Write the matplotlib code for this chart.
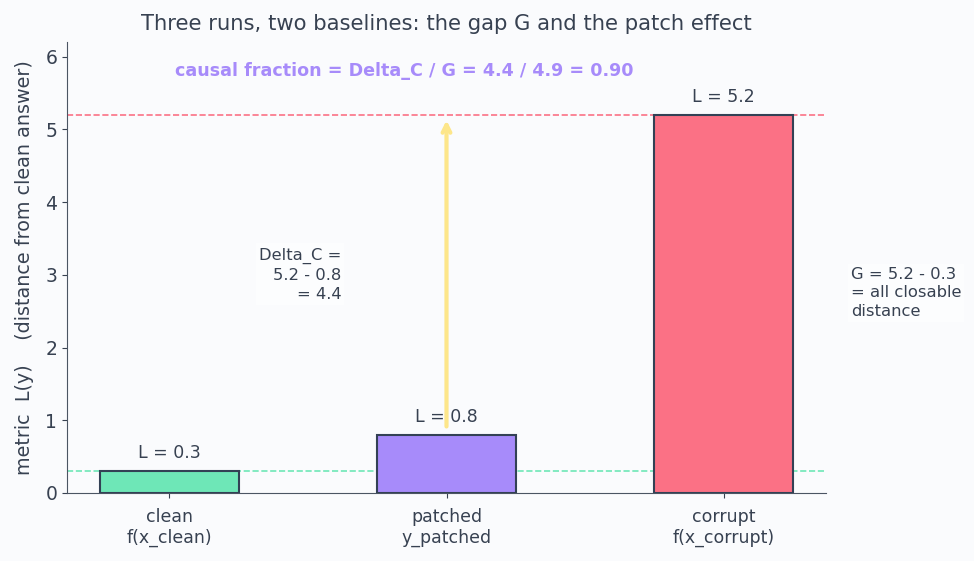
import matplotlib
matplotlib.use("Agg")
import matplotlib.pyplot as plt

categories = ["clean\nf(x_clean)", "patched\ny_patched", "corrupt\nf(x_corrupt)"]
values = [0.3, 0.8, 5.2]
bar_colors = ["#6ee7b7", "#a78bfa", "#fb7185"]
clean_val, patched_val, corrupt_val = values

bg = "#fafbfd"
txt = "#374151"

fig = plt.figure(figsize=(9.74, 5.61), dpi=100, facecolor=bg)
ax = fig.add_axes([67/974, 1 - 493/561, (826-67)/974, (493-42)/561])
ax.set_facecolor(bg)

x = list(range(len(categories)))
ax.bar(x, values, width=0.5, color=bar_colors, edgecolor="#334155", linewidth=1.5, zorder=3)
for xi, v in zip(x, values):
    ax.text(xi, v + 0.12, f"L = {v}", ha="center", va="bottom", fontsize=12.5, color=txt, zorder=5)

ax.axhline(clean_val, color="#6ee7b7", linestyle="--", linewidth=1.2, zorder=2)
ax.axhline(corrupt_val, color="#fb7185", linestyle="--", linewidth=1.2, zorder=2)

ax.annotate("", xy=(1, corrupt_val), xytext=(1, patched_val),
            arrowprops=dict(arrowstyle="->", color="#fde68a", lw=3,
                            shrinkA=6, shrinkB=4, mutation_scale=14), zorder=4)

ax.text(0.62, 3.0, f"Delta_C =\n{corrupt_val} - {patched_val}\n= {corrupt_val - patched_val:.1f}",
        ha="right", va="center", fontsize=11.8, color=txt, linespacing=1.35,
        bbox=dict(facecolor="white", edgecolor="none", alpha=0.5, pad=2))
ax.text(2.46, 2.75, f"G = {corrupt_val} - {clean_val}\n= all closable\ndistance",
        ha="left", va="center", fontsize=11.8, color=txt, linespacing=1.3, clip_on=False,
        bbox=dict(facecolor="white", edgecolor="none", alpha=0.5, pad=2))

G = corrupt_val - clean_val
dC = corrupt_val - patched_val
ax.text(0.02, 5.8, f"causal fraction = Delta_C / G = {dC:.1f} / {G:.1f} = {dC/G:.2f}",
        ha="left", va="center", fontsize=12.6, fontweight="bold", color="#a78bfa")

ax.set_xlim(-0.37, 2.37)
ax.set_ylim(0, 6.2)
ax.set_xticks(x)
ax.set_xticklabels(categories, fontsize=12.5, color=txt)
ax.set_yticks(range(0, 7))
ax.tick_params(axis="y", labelsize=13.5, colors=txt)
ax.tick_params(axis="x", colors=txt, pad=7)
for s in ["top", "right"]:
    ax.spines[s].set_visible(False)
for s in ["left", "bottom"]:
    ax.spines[s].set_color("#4b5563")
ax.set_ylabel("metric  L(y)    (distance from clean answer)", fontsize=13.8, color=txt, labelpad=8)
ax.set_title("Three runs, two baselines: the gap G and the patch effect", fontsize=15.2, color=txt, pad=9)

fig.savefig("out.png", dpi=100, facecolor=bg)
